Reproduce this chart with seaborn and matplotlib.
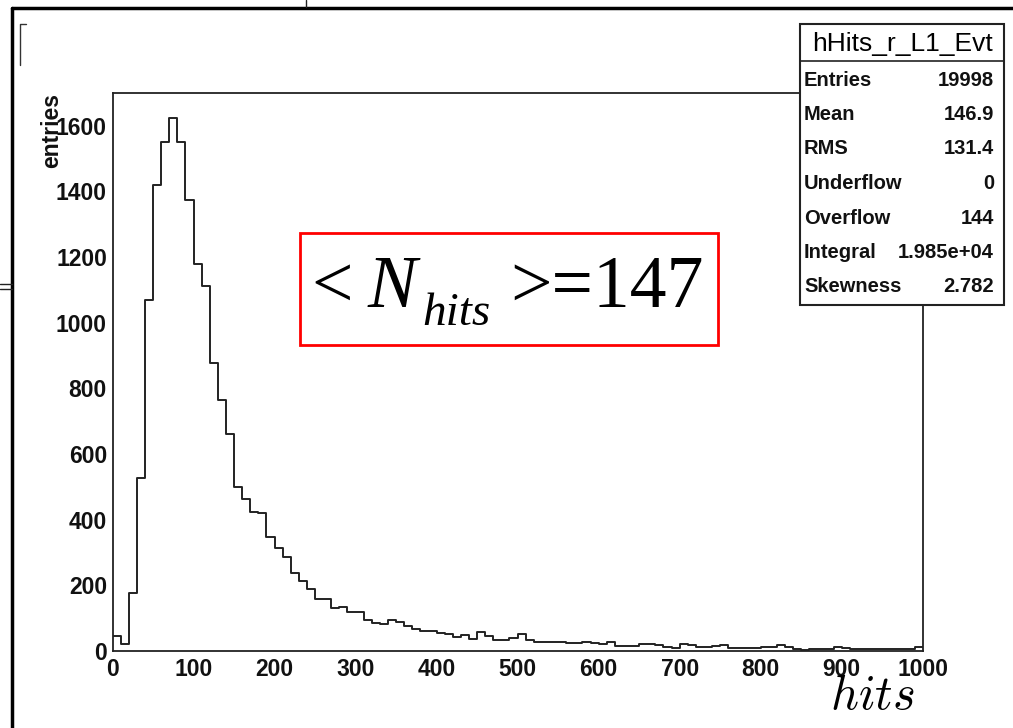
import numpy as np
import pandas as pd
import matplotlib
matplotlib.use("Agg")
import matplotlib.pyplot as plt
import seaborn as sns
from matplotlib.patches import Rectangle
from matplotlib.lines import Line2D
from matplotlib.ticker import MultipleLocator

# ---------------- data ----------------
bin_width = 10
hist_range = (0, 1000)
hist_counts = [
    46, 21, 177, 527, 1068, 1420, 1550, 1625, 1550, 1374,
    1179, 1113, 876, 766, 660, 501, 464, 424, 419, 347,
    313, 286, 237, 212, 188, 158, 158, 131, 135, 118,
    118, 94, 86, 81, 94, 89, 76, 67, 62, 62,
    56, 51, 44, 49, 36, 58, 46, 33, 33, 41,
    51, 34, 27, 27, 27, 27, 25, 25, 28, 24,
    20, 27, 15, 15, 14, 22, 22, 19, 12, 8,
    22, 17, 12, 12, 15, 19, 10, 10, 10, 10,
    12, 12, 17, 12, 7, 4, 7, 7, 7, 12,
    10, 7, 7, 7, 7, 7, 7, 7, 7, 12,
]
x_ticks = [0, 100, 200, 300, 400, 500, 600, 700, 800, 900, 1000]
y_ticks = [0, 200, 400, 600, 800, 1000, 1200, 1400, 1600]
stats_title = "hHits_r_L1_Evt"
stats_labels = ["Entries", "Mean", "RMS", "Underflow", "Overflow", "Integral", "Skewness"]
stats_values = ["19998", "146.9", "131.4", "0", "144", "1.985e+04", "2.782"]

# ---------------- style ----------------
sns.set_theme(style="white")
plt.rcParams["font.family"] = ["Liberation Sans", "DejaVu Sans"]

W, H = 1013, 728
fig = plt.figure(figsize=(W / 100, H / 100), dpi=100)
fig.patch.set_facecolor("white")

def fx(px):
    return px / W

def fy(py):
    return 1 - py / H

ax_l, ax_r, ax_t, ax_b = 112.5, 922.7, 93, 651
ax = fig.add_axes([fx(ax_l), fy(ax_b), fx(ax_r - ax_l), (ax_b - ax_t) / H])
ax.set_facecolor("white")

centers = [hist_range[0] + bin_width * (i + 0.5) for i in range(len(hist_counts))]
df = pd.DataFrame({"hits": centers, "entries": hist_counts})
sns.histplot(data=df, x="hits", weights="entries", binwidth=bin_width, binrange=hist_range,
             element="step", fill=False, color="#222222", linewidth=1.4, ax=ax)

ax.set_xlim(0, 1000)
ax.set_ylim(0, 1700)
ax.set_xlabel("")
ax.set_ylabel("")
ax.set_xticks(x_ticks)
ax.set_yticks(y_ticks)
ax.xaxis.set_minor_locator(MultipleLocator(20))
ax.yaxis.set_minor_locator(MultipleLocator(50))
for sp in ax.spines.values():
    sp.set_color("#222222")
    sp.set_linewidth(1.3)
ax.tick_params(axis="x", which="major", direction="in", length=13, width=1.1,
               color="#222222", pad=5, labelsize=16.5)
ax.tick_params(axis="x", which="minor", direction="in", length=6, width=1.1, color="#222222")
ax.tick_params(axis="y", which="major", direction="in", length=18, width=1.1,
               color="#222222", pad=4, labelsize=16.5)
ax.tick_params(axis="y", which="minor", direction="in", length=8.5, width=1.1, color="#222222")
for lab in ax.get_xticklabels() + ax.get_yticklabels():
    lab.set_fontweight("bold")
    lab.set_color("#111111")

# axis titles
fig.text(fx(52), fy(93), "entries", rotation=90, ha="center", va="top",
         fontsize=16.5, fontweight="bold", color="#111111")
fig.text(fx(915), fy(709), r"$hits$", ha="right", va="baseline",
         fontsize=35, math_fontfamily="cm", color="black")

# annotation box
fig.patches.append(Rectangle((fx(300), fy(345)), fx(718 - 300), (345 - 233) / H,
                             transform=fig.transFigure, fill=False,
                             edgecolor="red", linewidth=2, zorder=5))
serif = ["Liberation Serif", "DejaVu Serif"]
fig.text(fx(311), fy(307), "<", ha="left", va="baseline", fontsize=53,
         family=serif, color="black", zorder=6)
fig.text(fx(368), fy(307), "N", ha="left", va="baseline", fontsize=53,
         family=serif, style="italic", color="black", zorder=6)
fig.text(fx(422), fy(325), "hits", ha="left", va="baseline", fontsize=34,
         family=serif, style="italic", color="black", zorder=6)
fig.text(fx(704), fy(307), ">=147", ha="right", va="baseline", fontsize=53,
         family=serif, color="black", zorder=6)

# stats box
bx_l, bx_r, bx_t, bx_b = 800, 1004, 24, 305
fig.patches.append(Rectangle((fx(bx_l), fy(bx_b)), fx(bx_r - bx_l), (bx_b - bx_t) / H,
                             transform=fig.transFigure, facecolor="white",
                             edgecolor="#222222", linewidth=1.5, zorder=10))
fig.lines.append(Line2D([fx(bx_l), fx(bx_r)], [fy(61), fy(61)],
                        transform=fig.transFigure, color="#222222", lw=1.2, zorder=11))
fig.text(fx((bx_l + bx_r) / 2), fy(44), stats_title, ha="center", va="center",
         fontsize=19, color="black", zorder=12)
row_y = [80, 114.5, 149, 183.5, 218, 252.5, 287]
for yy, lab, val in zip(row_y, stats_labels, stats_values):
    fig.text(fx(804), fy(yy), lab, ha="left", va="center", fontsize=14.5,
             fontweight="bold", color="#111111", zorder=12)
    fig.text(fx(994), fy(yy), val, ha="right", va="center", fontsize=14.5,
             fontweight="bold", color="#111111", zorder=12)

# slide frame artifacts
def fline(xs, ys, lw=1.0, color="#222222"):
    fig.lines.append(Line2D([fx(v) for v in xs], [fy(v) for v in ys],
                            transform=fig.transFigure, color=color, lw=lw, zorder=20))

fline([12, 1013], [7.5, 7.5], lw=2.5, color="black")
fline([12, 12], [7.5, 728], lw=2.5, color="black")
fline([306, 306], [0, 7], lw=1.0)
fline([26, 20, 20], [24, 24, 65], lw=1.0, color="#333333")
fline([0, 12], [284, 284], lw=1.0)
fline([0, 12], [289, 289], lw=1.0)

fig.savefig("out.png", dpi=100)
